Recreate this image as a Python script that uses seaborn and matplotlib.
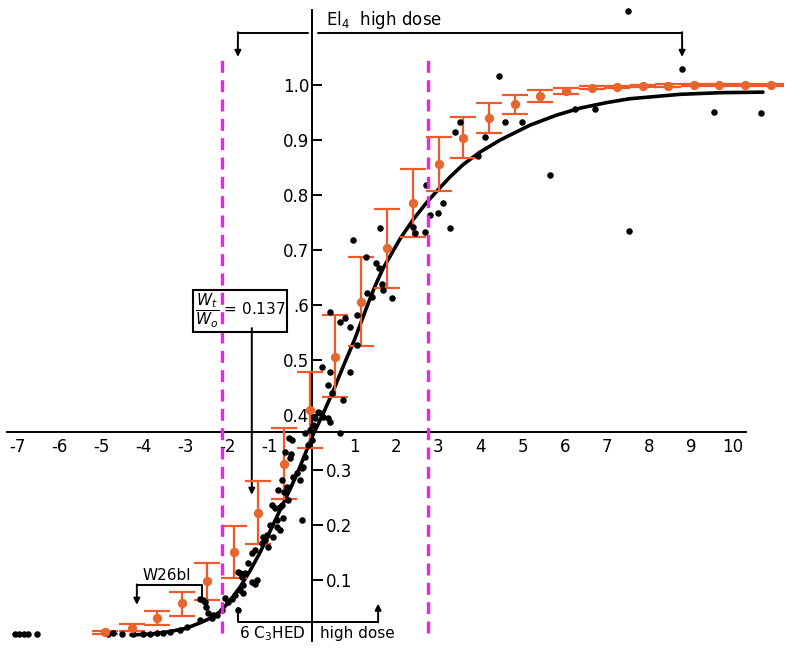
import numpy as np
import pandas as pd
import seaborn as sns
import matplotlib.pyplot as plt

sns.set_style("white")
plt.rcParams['font.family'] = ['DejaVu Sans']
plt.rcParams['text.color'] = 'black'

# orange means with error bars
mean_x = [-4.92, -4.28, -3.68, -3.09, -2.49, -1.85, -1.28, -0.66, -0.05, 0.55, 1.16, 1.78,
          2.40, 3.02, 3.59, 4.20, 4.82, 5.42, 6.03, 6.65, 7.24, 7.86, 8.46, 9.07, 9.67, 10.28, 10.90]
mean_y = [0.005, 0.013, 0.031, 0.058, 0.098, 0.151, 0.222, 0.311, 0.409, 0.506, 0.605, 0.704,
          0.785, 0.856, 0.904, 0.940, 0.965, 0.980, 0.989, 0.995, 0.997, 0.998, 0.999, 1.0, 1.0, 1.0, 1.0]
err_hi = [0.008, 0.020, 0.044, 0.078, 0.131, 0.198, 0.280, 0.376, 0.478, 0.582, 0.687, 0.775,
          0.847, 0.905, 0.942, 0.967, 0.982, 0.991, 0.995, 0.998, 0.999, 1.0, 1.001, 1.002, 1.002, 1.002, 1.002]
err_lo = [0.002, 0.007, 0.018, 0.035, 0.064, 0.104, 0.165, 0.247, 0.340, 0.433, 0.525, 0.631,
          0.724, 0.807, 0.867, 0.913, 0.947, 0.969, 0.983, 0.992, 0.995, 0.996, 0.997, 0.998, 0.998, 0.998, 0.998]

# fitted curve
curve_x = [-4.3, -3.8, -3.4, -3.0, -2.66, -2.4, -2.19, -1.95, -1.71, -1.47, -1.24, -1.0, -0.76, -0.52,
           -0.29, 0.0, 0.25, 0.5, 0.75, 1.0, 1.31, 1.5, 1.69, 2.09, 2.4, 2.73, 3.0, 3.28, 3.6, 3.99,
           4.47, 5.18, 5.8, 6.37, 7.0, 7.55, 8.74, 9.7, 10.71]
curve_y = [0.0, 0.002, 0.006, 0.012, 0.022, 0.031, 0.042, 0.062, 0.087, 0.117, 0.149, 0.188, 0.227, 0.265,
           0.305, 0.36, 0.40, 0.443, 0.49, 0.535, 0.598, 0.635, 0.667, 0.72, 0.755, 0.787, 0.81, 0.833, 0.856, 0.878,
           0.9, 0.927, 0.945, 0.958, 0.968, 0.975, 0.983, 0.986, 0.987]

# individual black points
dots = [(-7.05, 0.002), (-6.95, 0.002), (-6.85, 0.002), (-6.75, 0.002), (-6.53, 0.002),
        (-4.85, 0.002), (-4.73, 0.003), (-4.51, 0.001), (-4.25, 0.001), (-4.01, 0.001), (-3.85, 0.002),
        (-3.68, 0.003), (-3.54, 0.004), (-3.37, 0.005), (-3.14, 0.009), (-2.97, 0.015), (-2.66, 0.027),
        (-2.47, 0.04), (-2.35, 0.036), (-2.38, 0.031), (-2.26, 0.036), (-2.14, 0.045), (-2.59, 0.064),
        (-2.52, 0.051), (-2.66, 0.065), (-2.54, 0.06), (-2.07, 0.067), (-2.0, 0.06), (-1.9, 0.065),
        (-1.83, 0.073), (-1.71, 0.082), (-1.64, 0.091), (-1.71, 0.113), (-1.76, 0.115), (-1.66, 0.105),
        (-1.43, 0.096), (-1.76, 0.045), (-1.64, 0.076), (-1.59, 0.113), (-1.52, 0.131), (-1.43, 0.149),
        (-1.35, 0.155), (-1.31, 0.1), (-1.35, 0.093), (-1.19, 0.167), (-1.12, 0.173), (-1.05, 0.16),
        (-1.07, 0.182), (-0.93, 0.178), (-1.16, 0.178), (-0.83, 0.196), (-0.76, 0.191), (-1.0, 0.2),
        (-0.83, 0.209), (-0.69, 0.213), (-0.88, 0.231), (-0.95, 0.236), (-0.71, 0.236), (-0.76, 0.233),
        (-0.57, 0.245), (-0.67, 0.26), (-0.71, 0.282), (-0.81, 0.264), (-0.59, 0.27), (-0.45, 0.288),
        (-0.36, 0.295), (-0.29, 0.282), (-0.24, 0.304), (-0.21, 0.305), (-0.24, 0.209), (-0.17, 0.324),
        (-0.52, 0.321), (-0.64, 0.333), (-0.5, 0.33), (-0.55, 0.358), (-0.48, 0.355), (-0.1, 0.345),
        (0.0, 0.355), (-0.05, 0.373), (-0.17, 0.367), (0.02, 0.382), (0.07, 0.395), (0.14, 0.405),
        (0.19, 0.403), (0.26, 0.396), (0.38, 0.395), (0.43, 0.387), (0.67, 0.367), (0.74, 0.427),
        (0.48, 0.44), (0.38, 0.455), (0.24, 0.487), (0.43, 0.478), (0.9, 0.478), (1.07, 0.527),
        (0.43, 0.587), (0.67, 0.569), (0.78, 0.576), (0.9, 0.56), (1.07, 0.582), (0.97, 0.718),
        (1.28, 0.687), (1.52, 0.676), (1.59, 0.667), (1.31, 0.622), (1.43, 0.615), (1.66, 0.638),
        (1.69, 0.627), (1.9, 0.613), (1.62, 0.74), (2.45, 0.731), (2.68, 0.733), (2.71, 0.818),
        (2.8, 0.764), (2.99, 0.767), (3.11, 0.785), (3.28, 0.74), (3.4, 0.915), (3.52, 0.933),
        (3.94, 0.87), (4.11, 0.905), (4.44, 1.016), (4.58, 0.932), (4.99, 0.932), (5.65, 0.836),
        (6.25, 0.956), (6.72, 0.956), (7.53, 0.735), (8.79, 1.029), (9.55, 0.951), (10.67, 0.949),
        (7.5, 1.135), (2.4, 0.742)]
dots = pd.DataFrame(dots, columns=['x', 'y'])

window_x = [-2.14, 2.75]
x_ticks = [-7, -6, -5, -4, -3, -2, -1, 1, 2, 3, 4, 5, 6, 7, 8, 9, 10]
y_ticks_up = [0.4, 0.5, 0.6, 0.7, 0.8, 0.9, 1.0]
y_labels_up = ['0.4', '0.5', '.6', '0.7', '0.8', '0.9', '1.0']
y_ticks_low = [0.1, 0.2, 0.3]

orange = '#E5672E'
bar_orange = '#EF5A2A'
magenta = '#EE22EE'

fig = plt.figure(figsize=(8, 6.48), dpi=100)
ax = fig.add_axes([0, 0, 1, 1])
ax.set_xlim(-7.41, 11.59)
ax.set_ylim(-0.0236, 1.1545)

# axes crossing in the middle
ax.spines['top'].set_visible(False)
ax.spines['right'].set_visible(False)
ax.spines['left'].set_position(('data', 0))
ax.spines['bottom'].set_position(('data', 0.369))
ax.spines['left'].set_bounds(-0.01, 1.136)
ax.spines['bottom'].set_bounds(-7.25, 10.3)
for s in ['left', 'bottom']:
    ax.spines[s].set_linewidth(1.4)
    ax.spines[s].set_color('black')
ax.set_xticks(x_ticks)
ax.set_xticklabels([str(t) for t in x_ticks])
ax.set_yticks(y_ticks_up)
ax.set_yticklabels(y_labels_up)
ax.tick_params(axis='x', direction='in', length=7, width=1.4, pad=4, labelsize=12,
               color='black', labelcolor='black')
ax.tick_params(axis='y', direction='in', length=7, width=1.4, pad=2, labelsize=12,
               color='black', labelcolor='black')

ax2 = ax.twinx()
ax2.set_ylim(ax.get_ylim())
for s in ['top', 'left', 'bottom']:
    ax2.spines[s].set_visible(False)
ax2.spines['right'].set_position(('data', 0))
ax2.spines['right'].set_visible(False)
ax2.set_yticks(y_ticks_low)
ax2.set_yticklabels([str(t) for t in y_ticks_low])
ax2.tick_params(axis='y', direction='out', length=8, width=1.4, pad=2, labelsize=12,
                color='black', labelcolor='black')

# dashed window lines
ax.vlines(window_x, ymin=0.003, ymax=1.05, colors=magenta, linewidth=2.4,
          linestyles=(0, (3.6, 2.2)), zorder=6)

# fitted curve
sns.lineplot(x=curve_x, y=curve_y, sort=False, estimator=None, color='black',
             linewidth=2.6, ax=ax, zorder=3)

# error bars + means
yerr = [np.array(mean_y) - np.array(err_lo), np.array(err_hi) - np.array(mean_y)]
ax.errorbar(mean_x, mean_y, yerr=yerr, fmt='none', ecolor=bar_orange, elinewidth=1.6,
            capsize=9.5, capthick=1.6, zorder=4)
sns.scatterplot(data=dots, x='x', y='y', color='black', s=22, linewidth=0, ax=ax, zorder=5)
sns.scatterplot(x=mean_x, y=mean_y, color=orange, s=45, linewidth=0, ax=ax, zorder=7)
ax.set_xlabel('')
ax.set_ylabel('')

arrow = dict(arrowstyle='-|>', color='black', lw=1.4, mutation_scale=9, shrinkA=0, shrinkB=0)
line_kw = dict(color='black', lw=1.4, zorder=8)

# EL4 high dose bracket
ax.text(1.7, 1.118, r'El$_4$  high dose', ha='center', va='center', fontsize=12)
ax.plot([-1.76, -0.1], [1.095, 1.095], **line_kw)
ax.plot([0.14, 8.79], [1.095, 1.095], **line_kw)
ax.annotate('', xy=(-1.76, 1.051), xytext=(-1.76, 1.096), arrowprops=arrow)
ax.annotate('', xy=(8.79, 1.051), xytext=(8.79, 1.096), arrowprops=arrow)

# Wt/Wo box
ax.text(-1.71, 0.589, r'$\dfrac{W_t}{W_o}$ = 0.137', ha='center', va='center', fontsize=11,
        bbox=dict(boxstyle='square,pad=0.12', fc='none', ec='black', lw=1.5), zorder=8)
ax.annotate('', xy=(-1.43, 0.255), xytext=(-1.43, 0.558), arrowprops=arrow)

# W26bl bracket
ax.text(-3.44, 0.109, 'W26bl', ha='center', va='center', fontsize=11)
ax.plot([-4.16, -2.61, -2.61], [0.091, 0.091, 0.064], **line_kw)
ax.annotate('', xy=(-4.16, 0.055), xytext=(-4.16, 0.092), arrowprops=arrow)

# 6C3HED high dose bracket
ax.text(-0.95, 0.003, r'6 C$_3$HED', ha='center', va='center', fontsize=11)
ax.text(1.07, 0.003, 'high dose', ha='center', va='center', fontsize=11)
ax.plot([-1.76, -1.76, 1.57], [0.049, 0.024, 0.024], **line_kw)
ax.annotate('', xy=(1.57, 0.057), xytext=(1.57, 0.023), arrowprops=arrow)

fig.savefig('out.png', dpi=100)
